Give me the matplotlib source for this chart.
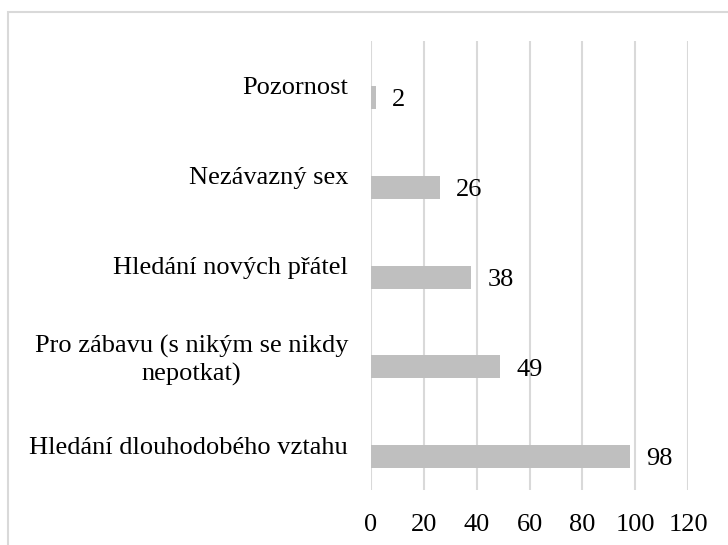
import matplotlib.pyplot as plt
from matplotlib.patches import Rectangle

# data (top to bottom as shown)
categories = ["Pozornost", "Nezávazný sex", "Hledání nových přátel",
              "Pro zábavu (s nikým se nikdy\nnepotkat)", "Hledání dlouhodobého vztahu"]
values = [2, 26, 38, 49, 98]
xticks = [0, 20, 40, 60, 80, 100, 120]

plt.rcParams['font.family'] = ['Liberation Serif', 'DejaVu Serif']

fig = plt.figure(figsize=(7.28, 5.45), dpi=100)
ax = fig.add_axes([371 / 728, 1 - 490 / 545, (688 - 371) / 728, (490 - 41) / 545])

# outer chart border (runs off the right and bottom edges)
fig.patches.append(Rectangle((8 / 728, -10 / 545), 740 / 728, 543 / 545, transform=fig.transFigure,
                             fill=False, edgecolor='#d9d9d9', linewidth=1.5))

pos = list(range(len(categories)))
bar_h = 0.257
ax.barh(pos, values, height=bar_h, align='edge', color='#bfbfbf', zorder=2)

for y, v in zip(pos, values):
    ax.text(v + 6, y + bar_h / 2 + 0.03, str(v), va='center', ha='left', fontsize=19, color='black')

ax.set_xlim(0, 120)
ax.set_ylim(4.5, -0.5)
ax.set_xticks(xticks)
ax.set_xticklabels([str(t) for t in xticks], fontsize=19)
ax.set_yticks(pos)
ax.set_yticklabels(categories, fontsize=19, ha='right', multialignment='center', linespacing=1.3)
ax.tick_params(axis='y', length=0, pad=16.5)
ax.tick_params(axis='x', length=0, pad=17.5)
ax.grid(axis='x', color='#d9d9d9', linewidth=1.5, zorder=0)
for s in ax.spines.values():
    s.set_visible(False)

fig.savefig('out.png', dpi=100)
